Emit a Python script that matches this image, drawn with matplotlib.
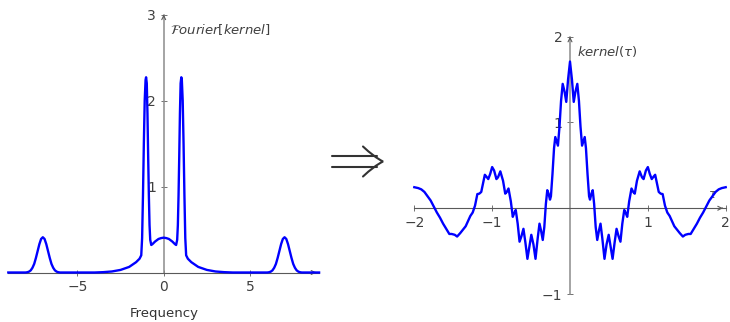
import matplotlib
matplotlib.use('Agg')
import matplotlib.pyplot as plt
from matplotlib.path import Path
from matplotlib.patches import PathPatch

plt.rcParams['mathtext.fontset'] = 'dejavusans'
plt.rcParams['font.family'] = ['DejaVu Sans']

# spectrum (left panel)
freq = [-9.0, -8.2, -8.0, -7.9, -7.8, -7.7, -7.6, -7.5, -7.4, -7.3, -7.2, -7.1, -7.0,
        -6.9, -6.8, -6.7, -6.6, -6.5, -6.4, -6.3, -6.2, -6.1, -6.0, -5.8,
        -4.0, -3.5, -3.0, -2.5, -2.0, -1.6, -1.4, -1.30, -1.25, -1.20, -1.15, -1.10,
        -1.05, -1.02, -0.98, -0.94, -0.90, -0.86, -0.82, -0.78, -0.72, -0.65, -0.5,
        -0.3, -0.15, 0.0,
        0.15, 0.3, 0.5, 0.65, 0.72, 0.78, 0.82, 0.86, 0.90, 0.94, 0.98, 1.02, 1.05,
        1.10, 1.15, 1.20, 1.25, 1.30, 1.4, 1.6, 2.0, 2.5, 3.0, 3.5, 4.0,
        5.8, 6.0, 6.1, 6.2, 6.3, 6.4, 6.5, 6.6, 6.7, 6.8, 6.9, 7.0, 7.1, 7.2, 7.3,
        7.4, 7.5, 7.6, 7.7, 7.8, 7.9, 8.0, 8.2, 9.0]
power = [0.0, 0.0, 0.0, 0.003, 0.01, 0.025, 0.055, 0.10, 0.17, 0.25, 0.33, 0.39, 0.41,
         0.39, 0.33, 0.25, 0.17, 0.10, 0.055, 0.025, 0.01, 0.003, 0.0, 0.0,
         0.0, 0.004, 0.012, 0.03, 0.065, 0.12, 0.16, 0.20, 0.40, 0.90, 1.50, 2.00,
         2.24, 2.27, 2.20, 1.85, 1.35, 0.90, 0.55, 0.38, 0.32, 0.33, 0.36,
         0.39, 0.40, 0.405,
         0.40, 0.39, 0.36, 0.33, 0.32, 0.38, 0.55, 0.90, 1.35, 1.85, 2.20, 2.27, 2.24,
         2.00, 1.50, 0.90, 0.40, 0.20, 0.16, 0.12, 0.065, 0.03, 0.012, 0.004, 0.0,
         0.0, 0.0, 0.003, 0.01, 0.025, 0.055, 0.10, 0.17, 0.25, 0.33, 0.39, 0.41, 0.39,
         0.33, 0.25, 0.17, 0.10, 0.055, 0.025, 0.01, 0.003, 0.0, 0.0, 0.0]

# kernel (right panel)
tau = [-2.000, -1.950, -1.910, -1.870, -1.830, -1.790, -1.750, -1.710, -1.670, -1.630,
       -1.590, -1.550, -1.520, -1.480, -1.450, -1.410, -1.375, -1.340, -1.310, -1.280,
       -1.250, -1.220, -1.190, -1.165, -1.140, -1.115, -1.094, -1.075, -1.050, -1.025,
       -1.000, -0.975, -0.945, -0.925, -0.895, -0.860, -0.832, -0.812, -0.790, -0.760,
       -0.735, -0.718, -0.697, -0.672, -0.648, -0.625, -0.598, -0.573, -0.547, -0.522,
       -0.497, -0.470, -0.443, -0.415, -0.392, -0.372, -0.350, -0.330, -0.310, -0.292,
       -0.275, -0.257, -0.245, -0.225, -0.205, -0.189, -0.172, -0.155, -0.135, -0.115,
       -0.094, -0.070, -0.048, -0.025, 0.000,
       0.025, 0.048, 0.070, 0.094, 0.115, 0.135, 0.155, 0.172, 0.189, 0.205,
       0.225, 0.245, 0.257, 0.275, 0.292, 0.310, 0.330, 0.350, 0.372, 0.392,
       0.415, 0.443, 0.470, 0.497, 0.522, 0.547, 0.573, 0.598, 0.625, 0.648,
       0.672, 0.697, 0.718, 0.735, 0.760, 0.790, 0.812, 0.832, 0.860, 0.895,
       0.925, 0.945, 0.975, 1.000, 1.025, 1.050, 1.075, 1.094, 1.115, 1.140,
       1.165, 1.190, 1.220, 1.250, 1.280, 1.310, 1.340, 1.375, 1.410, 1.450,
       1.480, 1.520, 1.550, 1.590, 1.630, 1.670, 1.710, 1.750, 1.790, 1.830,
       1.870, 1.910, 1.950, 2.000]
kern = [0.245, 0.235, 0.22, 0.19, 0.14, 0.09, 0.02, -0.05, -0.11, -0.18,
        -0.24, -0.30, -0.30, -0.31, -0.33, -0.29, -0.25, -0.21, -0.15, -0.09,
        -0.05, 0.03, 0.165, 0.17, 0.19, 0.30, 0.39, 0.37, 0.34, 0.40,
        0.48, 0.44, 0.34, 0.36, 0.43, 0.32, 0.17, 0.19, 0.23, 0.08,
        -0.10, -0.06, -0.02, -0.18, -0.39, -0.33, -0.24, -0.40, -0.59, -0.45,
        -0.31, -0.42, -0.59, -0.35, -0.18, -0.26, -0.37, -0.22, 0.05, 0.21,
        0.17, 0.10, 0.14, 0.40, 0.70, 0.83, 0.78, 0.73, 0.95, 1.25,
        1.45, 1.36, 1.24, 1.50, 1.71,
        1.50, 1.24, 1.36, 1.45, 1.25, 0.95, 0.73, 0.78, 0.83, 0.70,
        0.40, 0.14, 0.10, 0.17, 0.21, 0.05, -0.22, -0.37, -0.26, -0.18,
        -0.35, -0.59, -0.42, -0.31, -0.45, -0.59, -0.40, -0.24, -0.33, -0.39,
        -0.18, -0.02, -0.06, -0.10, 0.08, 0.23, 0.19, 0.17, 0.32, 0.43,
        0.36, 0.34, 0.44, 0.48, 0.40, 0.34, 0.37, 0.39, 0.30, 0.19,
        0.17, 0.165, 0.03, -0.05, -0.09, -0.15, -0.21, -0.25, -0.29, -0.33,
        -0.31, -0.30, -0.30, -0.24, -0.18, -0.11, -0.05, 0.02, 0.09, 0.14,
        0.19, 0.22, 0.235, 0.245]

BLUE = '#0000ff'
AXC = '0.35'

fig = plt.figure(figsize=(7.3, 3.22), dpi=100)
ax1 = fig.add_axes([8.3 / 730, 49.5 / 322, 310.8 / 730, 258 / 322])
ax2 = fig.add_axes([414.3 / 730, 28 / 322, 311.4 / 730, 257.3 / 322])


def style(ax, xlim, ylim, xticks, yticks):
    ax.set_xlim(*xlim)
    ax.set_ylim(*ylim)
    ax.set_axisbelow(True)
    for s in ['top', 'right']:
        ax.spines[s].set_visible(False)
    ax.spines['bottom'].set_position(('data', 0))
    ax.spines['left'].set_position(('data', 0))
    ax.spines['bottom'].set_color(AXC)
    ax.spines['left'].set_color('0.55')
    ax.spines['bottom'].set_linewidth(0.8)
    ax.spines['left'].set_linewidth(1.1)
    ax.set_xticks(xticks)
    ax.set_yticks(yticks)
    ax.tick_params(direction='inout', length=5, width=0.6, color=AXC,
                   labelsize=10, labelcolor='0.25', pad=3)
    ax.patch.set_alpha(0)
    arr = dict(arrowstyle='->', color=AXC, lw=0.8, mutation_scale=7)
    dx = (xlim[1] - xlim[0]) * 0.02
    dy = (ylim[1] - ylim[0]) * 0.02
    ax.annotate('', xy=(xlim[1], 0), xytext=(xlim[1] - dx, 0), arrowprops=arr,
                annotation_clip=False)
    ax.annotate('', xy=(0, ylim[1]), xytext=(0, ylim[1] - dy), arrowprops=arr,
                annotation_clip=False)


style(ax1, (-9, 9), (0, 3), [-5, 0, 5], [1, 2, 3])
ax1.plot(freq, power, color=BLUE, lw=1.7, clip_on=False, zorder=3)
ax1.text(0.36, 2.82, r'$\mathcal{F}\mathit{ourier}[\mathit{kernel}]$', fontsize=9.5,
         color='0.25', ha='left', va='center')
fig.text(164 / 730, 1 - 313 / 322, 'Frequency', fontsize=9.5, color='0.2',
         ha='center', va='center')

style(ax2, (-2, 2), (-1, 2), [-2, -1, 1, 2], [-1, 1, 2])
ax2.text(1.84, 0.155, r'$\tau$', fontsize=9, color='0.35', ha='center', va='center')
ax2.plot(tau, kern, color=BLUE, lw=1.7, clip_on=False, zorder=3)
ax2.text(0.09, 1.83, r'$\mathit{kernel}(\tau)$', fontsize=9.5, color='0.25',
         ha='left', va='center')


# big double arrow between the panels (pixel coords, y from top)
def fp(x, y):
    return (x / 730, 1 - y / 322)


arrow_paths = [
    Path([fp(332, 156), fp(377, 156)], [Path.MOVETO, Path.LINETO]),
    Path([fp(332, 167), fp(377, 167)], [Path.MOVETO, Path.LINETO]),
    Path([fp(363, 146.5), fp(374, 157), fp(383, 161.5), fp(374, 166), fp(363, 176.5)],
         [Path.MOVETO, Path.CURVE3, Path.LINETO, Path.CURVE3, Path.LINETO]),
]
for p in arrow_paths:
    fig.add_artist(PathPatch(p, transform=fig.transFigure, fill=False,
                             edgecolor='0.2', lw=1.5, capstyle='round',
                             joinstyle='miter'))

fig.savefig('out.png', dpi=100)
